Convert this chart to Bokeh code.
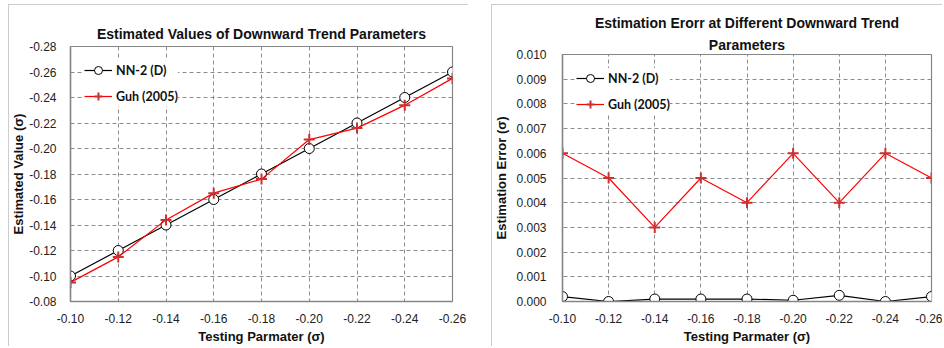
from bokeh.plotting import figure
from bokeh.layouts import row, column
from bokeh.models import Range1d, FixedTicker, NumeralTickFormatter, Spacer, Title
from bokeh.embed import file_html
from bokeh.resources import INLINE

# ---- data ----
x_params = [-0.10, -0.12, -0.14, -0.16, -0.18, -0.20, -0.22, -0.24, -0.26]
nn2_est = [-0.100, -0.120, -0.140, -0.160, -0.180, -0.200, -0.220, -0.240, -0.260]
guh_est = [-0.095, -0.115, -0.144, -0.165, -0.176, -0.207, -0.216, -0.234, -0.255]
nn2_err = [0.0002, 0.0000, 0.0001, 0.0001, 0.0001, 0.00005, 0.00025, 0.0000, 0.0002]
guh_err = [0.006, 0.005, 0.003, 0.005, 0.004, 0.006, 0.004, 0.006, 0.005]

x_ticks = [-0.10, -0.12, -0.14, -0.16, -0.18, -0.20, -0.22, -0.24, -0.26]
y_ticks_left = [-0.08, -0.10, -0.12, -0.14, -0.16, -0.18, -0.20, -0.22, -0.24, -0.26, -0.28]
y_ticks_right = [0.000, 0.001, 0.002, 0.003, 0.004, 0.005, 0.006, 0.007, 0.008, 0.009, 0.010]

title_left = "Estimated Values of Downward Trend Parameters"
title_right_1 = "Estimation Erorr at Different Downward Trend"
title_right_2 = "Parameters"
xlabel = "Testing Parmater (σ)"
ylabel_left = "Estimated Value (σ)"
ylabel_right = "Estimation Error (σ)"
name_nn = "NN-2 (D)"
name_guh = "Guh (2005)"

FONT = "Liberation Sans"
GRID = "#8c8c8c"
AXIS = "#868686"
RED = "#ff0000"
RED_MK = "#c83232"


def style_title(t, standoff):
    t.text_font = FONT
    t.text_font_size = "14px"
    t.text_font_style = "bold"
    t.align = "center"
    t.text_color = "#111111"
    t.standoff = standoff


def style(p, y_fmt, lbl_standoff, title_standoff):
    for ax in (p.xaxis[0], p.yaxis[0]):
        ax.axis_line_color = AXIS
        ax.axis_line_width = 1.5
        ax.major_tick_line_color = None
        ax.minor_tick_line_color = None
        ax.major_label_text_font = FONT
        ax.major_label_text_font_size = "12px"
        ax.major_label_text_color = "#222222"
        ax.axis_label_text_font = FONT
        ax.axis_label_text_font_size = "13px"
        ax.axis_label_text_font_style = "bold"
        ax.axis_label_text_color = "#111111"
    p.xaxis[0].major_label_standoff = 6
    p.xaxis[0].axis_label_standoff = 3
    p.yaxis[0].major_label_standoff = lbl_standoff
    p.yaxis[0].axis_label_standoff = title_standoff
    p.xaxis[0].formatter = NumeralTickFormatter(format="0.00")
    p.yaxis[0].formatter = NumeralTickFormatter(format=y_fmt)
    for g in (p.xgrid[0], p.ygrid[0]):
        g.grid_line_color = GRID
        g.grid_line_dash = "4 3"
        g.grid_line_width = 1
    p.outline_line_color = AXIS
    p.outline_line_width = 1.2
    p.background_fill_color = "white"
    p.border_fill_color = "white"
    p.styles = {"outline": "1px solid #bdbdbd", "outline-offset": "-1px"}


def add_series(p, ys_nn, ys_guh):
    p.line(x_params, ys_nn, line_color="black", line_width=1.2, legend_label=name_nn)
    p.scatter(x_params, ys_nn, marker="circle", size=10, fill_color="white",
              line_color="black", line_width=1, legend_label=name_nn)
    p.line(x_params, ys_guh, line_color=RED, line_width=1.2, legend_label=name_guh)
    p.scatter(x_params, ys_guh, marker="cross", size=11, line_color=RED_MK,
              line_width=2, legend_label=name_guh)
    lg = p.legend[0]
    lg.location = "top_left"
    lg.margin = 14
    lg.padding = 5
    lg.spacing = 6
    lg.glyph_width = 28
    lg.glyph_height = 20
    lg.label_standoff = 4
    lg.border_line_color = None
    lg.background_fill_color = "white"
    lg.background_fill_alpha = 1
    lg.label_text_font = "Lato"
    lg.label_text_font_style = "bold"
    lg.label_text_font_size = "12.5px"
    lg.label_text_color = "#111111"


# ---- left chart ----
p1 = figure(width=460, height=342, output_backend="svg", toolbar_location=None,
            title=title_left,
            x_range=Range1d(-0.10, -0.26), y_range=Range1d(-0.08, -0.28),
            min_border_left=60, min_border_right=16, min_border_top=42, min_border_bottom=40)
style_title(p1.title, 10)
p1.title.padding = (0, 0, 10, 0)
p1.xaxis.ticker = FixedTicker(ticks=x_ticks)
p1.yaxis.ticker = FixedTicker(ticks=y_ticks_left)
p1.xaxis.axis_label = xlabel
p1.yaxis.axis_label = ylabel_left
style(p1, "0.00", 8, 0)
add_series(p1, nn2_est, guh_est)

# ---- right chart ----
p2 = figure(width=451, height=342, output_backend="svg", toolbar_location=None,
            x_range=Range1d(-0.10, -0.26), y_range=Range1d(0.0, 0.010),
            min_border_left=66, min_border_right=11, min_border_top=50, min_border_bottom=40)
t2b = Title(text=title_right_2)
style_title(t2b, 4)
t2a = Title(text=title_right_1)
style_title(t2a, 4)
p2.add_layout(t2b, "above")
p2.add_layout(t2a, "above")
p2.xaxis.ticker = FixedTicker(ticks=x_ticks)
p2.yaxis.ticker = FixedTicker(ticks=y_ticks_right)
p2.xaxis.axis_label = xlabel
p2.yaxis.axis_label = ylabel_right
style(p2, "0.000", 10, 4)
add_series(p2, nn2_err, guh_err)

left_col = column(Spacer(height=4), p1)
right_col = column(Spacer(height=4), p2)
layout = row(Spacer(width=8), left_col, Spacer(width=23), right_col)
open("out.html", "w").write(file_html(layout, INLINE))
